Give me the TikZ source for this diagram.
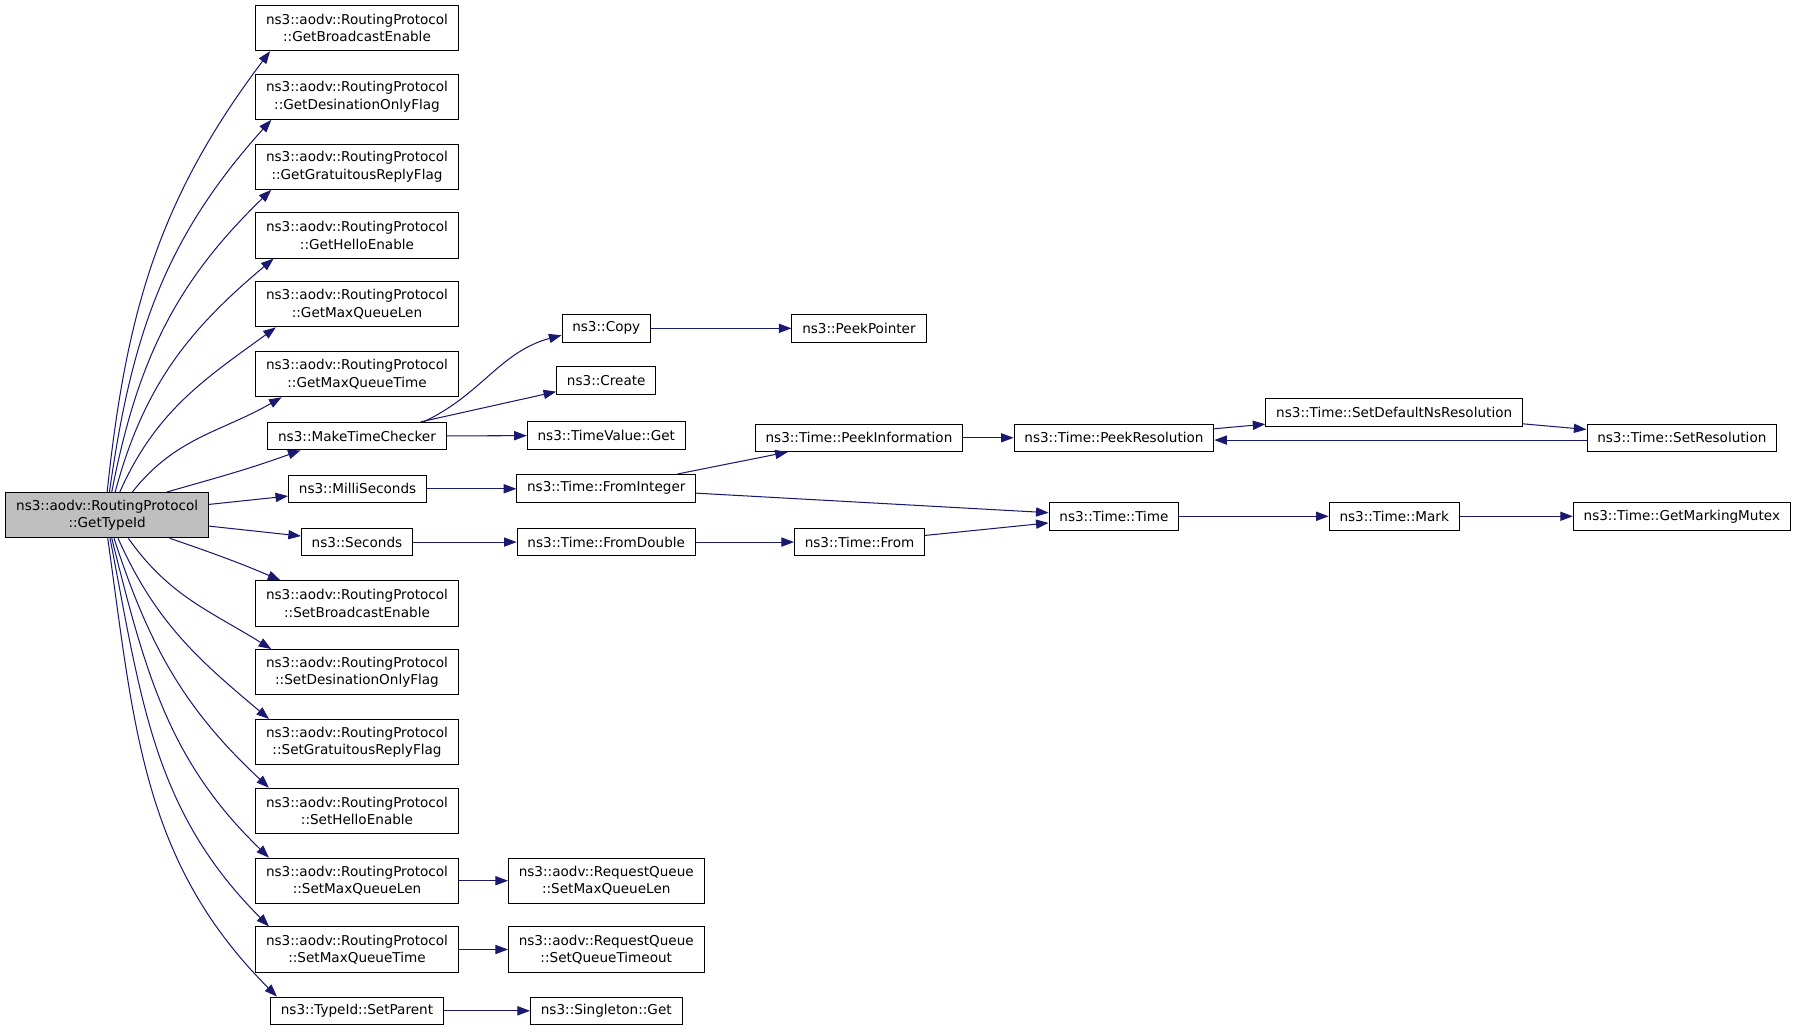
\documentclass[tikz,border=0pt]{standalone}
\usepackage{fontspec}
\setmainfont{DejaVu Sans}
\usetikzlibrary{arrows.meta}
\definecolor{callblue}{HTML}{191970}
\definecolor{rootgray}{HTML}{BFBFBF}

\begin{document}
\begin{tikzpicture}[x=1pt,y=1pt,
  fn/.style={draw=black,fill=white,line width=0.8pt,font=\fontsize{11.85}{15}\selectfont,inner xsep=9pt,inner ysep=0pt,minimum height=24pt},
  fntwo/.style={fn,align=center,minimum height=39.5pt},
  call/.style={draw=callblue,line width=0.9pt,-{Triangle[length=11pt,width=8pt]}}]
  \useasboundingbox (0,0) rectangle (1568,900);

  \node[fntwo,fill=rootgray] (gettypeid) at (93.5,450.5) {ns3::aodv::RoutingProtocol\\::GetTypeId};

  \node[fntwo] (getbcast) at (311.5,875.5) {ns3::aodv::RoutingProtocol\\::GetBroadcastEnable};
  \node[fntwo] (getdest) at (311.5,815.5) {ns3::aodv::RoutingProtocol\\::GetDesinationOnlyFlag};
  \node[fntwo] (getgrat) at (311.5,754.5) {ns3::aodv::RoutingProtocol\\::GetGratuitousReplyFlag};
  \node[fntwo] (gethello) at (311.5,694.5) {ns3::aodv::RoutingProtocol\\::GetHelloEnable};
  \node[fntwo] (getqlen) at (311.5,634.5) {ns3::aodv::RoutingProtocol\\::GetMaxQueueLen};
  \node[fntwo] (getqtime) at (311.5,573.5) {ns3::aodv::RoutingProtocol\\::GetMaxQueueTime};
  \node[fn] (mkchecker) at (311.5,519.5) {ns3::MakeTimeChecker};
  \node[fn] (millisec) at (312,473.5) {ns3::MilliSeconds};
  \node[fn] (seconds) at (311.5,427) {ns3::Seconds};
  \node[fntwo] (setbcast) at (311.5,373.5) {ns3::aodv::RoutingProtocol\\::SetBroadcastEnable};
  \node[fntwo] (setdest) at (311.5,313.5) {ns3::aodv::RoutingProtocol\\::SetDesinationOnlyFlag};
  \node[fntwo] (setgrat) at (311.5,252.5) {ns3::aodv::RoutingProtocol\\::SetGratuitousReplyFlag};
  \node[fntwo] (sethello) at (311.5,192.5) {ns3::aodv::RoutingProtocol\\::SetHelloEnable};
  \node[fntwo] (setqlen) at (311.5,131.5) {ns3::aodv::RoutingProtocol\\::SetMaxQueueLen};
  \node[fntwo] (setqtime) at (311.5,71.5) {ns3::aodv::RoutingProtocol\\::SetMaxQueueTime};
  \node[fn] (setparent) at (311.5,18) {ns3::TypeId::SetParent};

  \node[fn] (copy) at (529,613.5) {ns3::Copy};
  \node[fn] (create) at (529,568) {ns3::Create};
  \node[fn] (tvget) at (529,520) {ns3::TimeValue::Get};
  \node[fn] (fromint) at (529,474) {ns3::Time::FromInteger};
  \node[fn] (fromdbl) at (529,427) {ns3::Time::FromDouble};
  \node[fntwo] (rqlen) at (529,131.5) {ns3::aodv::RequestQueue\\::SetMaxQueueLen};
  \node[fntwo] (rqtimeout) at (529,71.5) {ns3::aodv::RequestQueue\\::SetQueueTimeout};
  \node[fn] (singleton) at (529,18) {ns3::Singleton::Get};

  \node[fn] (peekptr) at (749.5,613.5) {ns3::PeekPointer};
  \node[fn] (peekinfo) at (749.5,518) {ns3::Time::PeekInformation};
  \node[fn] (timefrom) at (750,427) {ns3::Time::From};

  \node[fn] (peekres) at (972,518) {ns3::Time::PeekResolution};
  \node[fn] (timetime) at (972,449.5) {ns3::Time::Time};

  \node[fn] (setdefres) at (1216.5,540) {ns3::Time::SetDefaultNsResolution};
  \node[fn] (mark) at (1216.5,449.5) {ns3::Time::Mark};

  \node[fn] (setres) at (1467.5,518) {ns3::Time::SetResolution};
  \node[fn] (mutex) at (1467.5,449.5) {ns3::Time::GetMarkingMutex};

  \draw[call] (gettypeid.north) to[out=84,in=233] ([xshift=13pt]getbcast.south west);
  \draw[call] ([xshift=2pt]gettypeid.north) to[out=82,in=228] ([xshift=14pt]getdest.south west);
  \draw[call] ([xshift=4pt]gettypeid.north) to[out=79,in=224] ([xshift=14pt]getgrat.south west);
  \draw[call] ([xshift=7pt]gettypeid.north) to[out=75,in=220] ([xshift=16pt]gethello.south west);
  \draw[call] ([xshift=11pt]gettypeid.north) to[out=66,in=216] ([xshift=18pt]getqlen.south west);
  \draw[call] ([xshift=22pt]gettypeid.north) to[out=52,in=210] ([xshift=23pt]getqtime.south west);
  \draw[call] ([xshift=52pt]gettypeid.north) to[out=16,in=200] ([xshift=29pt]mkchecker.south west);
  \draw[call] (gettypeid) -- (millisec);
  \draw[call] (gettypeid) -- (seconds);
  \draw[call] ([xshift=54.5pt]gettypeid.south) to[out=-19,in=157] ([xshift=22pt]setbcast.north west);
  \draw[call] ([xshift=18.5pt]gettypeid.south) to[out=-55,in=148] ([xshift=14pt]setdest.north west);
  \draw[call] ([xshift=9.5pt]gettypeid.south) to[out=-66,in=140] ([xshift=12pt]setgrat.north west);
  \draw[call] ([xshift=6pt]gettypeid.south) to[out=-72,in=137] ([xshift=12pt]sethello.north west);
  \draw[call] ([xshift=4pt]gettypeid.south) to[out=-76,in=136] ([xshift=12pt]setqlen.north west);
  \draw[call] ([xshift=2.5pt]gettypeid.south) to[out=-79,in=135] ([xshift=12pt]setqtime.north west);
  \draw[call] ([xshift=0.5pt]gettypeid.south) to[out=-82,in=135] ([xshift=6pt]setparent.north west);

  \draw[call] ([xshift=58pt]mkchecker.north) to[out=25,in=195] ([yshift=-6pt]copy.west);
  \draw[call] (mkchecker) -- (create);
  \draw[call] (mkchecker) -- (tvget);
  \draw[call] (millisec) -- (millisec -| fromint.west);
  \draw[call] (seconds) -- (fromdbl);
  \draw[call] (setqlen) -- (rqlen);
  \draw[call] (setqtime) -- (rqtimeout);
  \draw[call] (setparent) -- (singleton);

  \draw[call] (copy) -- (peekptr);
  \draw[call] (fromint) -- (peekinfo);
  \draw[call] (fromint) -- (timetime);
  \draw[call] (fromdbl) -- (timefrom);
  \draw[call] (timefrom) -- (timetime);
  \draw[call] (peekinfo) -- (peekres);
  \draw[call] (peekres) -- (setdefres);
  \draw[call] (setdefres) -- (setres);
  \draw[call] ([yshift=-2pt]setres.west) -- ([yshift=-2pt]peekres.east);
  \draw[call] (timetime) -- (mark);
  \draw[call] (mark) -- (mutex);
\end{tikzpicture}
\end{document}
